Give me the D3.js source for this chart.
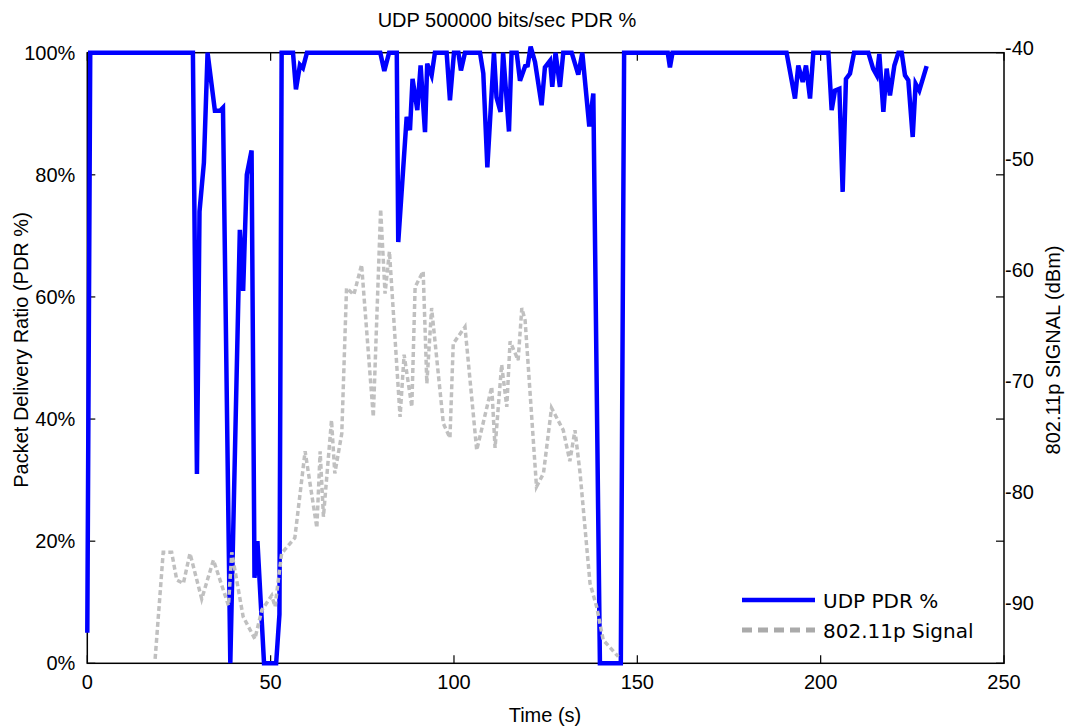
<!DOCTYPE html>
<html>
<head>
<meta charset="utf-8">
<script src="https://cdn.jsdelivr.net/npm/d3@7"></script>
<style>
body{margin:0;background:#fff;}
svg text{font-family:"Liberation Sans",Arial,sans-serif;fill:#000;}
.legend text{font-family:"DejaVu Sans",sans-serif;}
</style>
</head>
<body>
<svg id="chart" width="1066" height="727"></svg>
<script>
// PDR series (time in s, PDR in %)
var pdrTime = [0,0.8,28.8,29.9,30.6,31.8,32.8,34.8,36.2,37.0,39.0,41.6,42.5,43.5,44.8,45.6,46.4,48.2,51.5,52.4,53.0,
  56.1,56.9,58.0,58.8,59.9,79.9,81.0,82.3,84.4,84.8,87.1,88.0,88.7,90.0,90.9,92.1,92.7,93.9,94.8,98.0,98.9,100.0,
  101.2,101.9,103.0,107.1,108.0,109.1,110.9,111.6,112.7,113.4,115.0,115.7,117.1,118.0,119.4,120.1,120.9,122.1,
  123.9,124.8,126.2,126.8,127.7,128.9,129.8,132.1,133.9,135.0,136.9,138.0,139.8,145.5,146.4,158.3,158.9,159.6,
  190.7,193.0,193.9,195.1,196.0,197.1,198.0,202.1,203.0,203.9,205.1,206.0,206.9,208.0,209.1,213.0,214.3,215.3,
  216.0,217.1,218.0,218.9,220.1,221.2,222.1,223.0,223.9,225.1,225.9,226.9,228.9];
var pdrValue = [5,100,100,31,74,82,100,90.5,90.5,91,0,71,61,80,84,14,20,0,0,8,100,
  100,94,98,97.5,100,100,97,100,100,69,89.5,87.3,95.7,90.6,97.9,87,98.2,96.3,100,100,92.2,100,
  100,97.1,100,100,96.6,81.2,100,92.7,90.3,100,87.1,100,100,95.4,97.8,97.9,101,98.5,
  91.4,97.6,98.7,94.4,100,94.4,100,100,96.4,100,87.9,93.3,0,0,100,100,97.6,100,
  100,92.5,97.9,95.2,97.9,92.5,100,100,90.6,93.8,94.1,77.2,95.7,96.6,100,100,97.4,96.3,
  99.8,90.3,97.4,93,97.9,100,100,96.3,95.5,86.2,94.9,93.8,97.8];

// 802.11p signal series (time in s, dBm)
var sigTime = [18.5,20.7,23.0,24.4,26.2,28.0,31.2,34.4,38.5,39.4,42.5,45.7,47.6,50.3,51.2,53.0,56.6,59.4,62.6,63.5,
  64.4,66.6,67.5,69.4,70.7,72.7,74.8,78.0,80.0,81.2,82.4,85.3,86.4,88.5,89.4,91.6,92.6,93.9,97.1,98.9,99.8,103.0,
  106.2,110.3,111.2,113.0,114.4,115.3,117.5,118.5,119.4,122.5,124.4,126.6,129.8,131.6,133.0,134.4,137.1,138.9,
  140.7,144.8];
var sigValue = [-94.6,-85,-85,-87.5,-87.8,-85.1,-89.2,-85.7,-89.8,-85.0,-90.8,-92.8,-90.2,-88.9,-89.9,-85.1,-83.7,-75.9,-82.8,-75.9,
  -81.8,-73.1,-77.9,-74.3,-61.2,-61.8,-59.1,-72.8,-54.1,-61.7,-57.9,-72.8,-67.2,-71.9,-61.1,-59.7,-69.8,-63,-73.4,-74.7,-66.2,-64.7,
  -75.8,-70.1,-75.6,-68.1,-71.9,-66,-67.7,-63,-64.1,-79.1,-77.9,-72,-74,-76.8,-74,-77.9,-87.8,-89.9,
  -92.9,-94.4];

var xTicks = [0,50,100,150,200,250];
var yTicks = [0,20,40,60,80,100];
var y2Ticks = [-40,-50,-60,-70,-80,-90];
var seriesNames = ["UDP PDR %","802.11p Signal"];

var mLeft = 87.3, mRight = 1004, mTop = 52.7, mBottom = 663.3;
var svg = d3.select("#chart");

var x = d3.scaleLinear().domain([0,250]).range([mLeft,mRight]);
var y = d3.scaleLinear().domain([0,100]).range([mBottom,mTop]);
var y2 = d3.scaleLinear().domain([-95,-40]).range([mBottom,mTop]);

// frame
svg.append("rect").attr("x",mLeft).attr("y",mTop).attr("width",mRight-mLeft).attr("height",mBottom-mTop)
  .attr("fill","none").attr("stroke","#000").attr("stroke-width",1.5);

var tl = 8;
// x ticks (bottom and mirrored on top, pointing in)
svg.append("g").selectAll("line").data(xTicks).enter().append("line")
  .attr("x1",d=>x(d)).attr("x2",d=>x(d)).attr("y1",mBottom).attr("y2",mBottom-tl)
  .attr("stroke","#000").attr("stroke-width",1.2);
svg.append("g").selectAll("line").data(xTicks).enter().append("line")
  .attr("x1",d=>x(d)).attr("x2",d=>x(d)).attr("y1",mTop).attr("y2",mTop+tl)
  .attr("stroke","#000").attr("stroke-width",1.2);
svg.append("g").selectAll("text").data(xTicks).enter().append("text")
  .attr("x",d=>x(d)).attr("y",mBottom+26).attr("text-anchor","middle")
  .style("font-size","20px").text(d=>d);

// y ticks left and mirrored on right
svg.append("g").selectAll("line").data(yTicks).enter().append("line")
  .attr("x1",mLeft).attr("x2",mLeft+tl).attr("y1",d=>y(d)).attr("y2",d=>y(d))
  .attr("stroke","#000").attr("stroke-width",1.2);
svg.append("g").selectAll("line").data(yTicks).enter().append("line")
  .attr("x1",mRight).attr("x2",mRight-tl).attr("y1",d=>y(d)).attr("y2",d=>y(d))
  .attr("stroke","#000").attr("stroke-width",1.2);
svg.append("g").selectAll("text").data(yTicks).enter().append("text")
  .attr("x",mLeft-12).attr("y",d=>y(d)+7).attr("text-anchor","end")
  .style("font-size","20px").text(d=>d+"%");

// right axis labels
svg.append("g").selectAll("text").data(y2Ticks).enter().append("text")
  .attr("x",mRight+1).attr("y",d=>y2(d)+2).attr("text-anchor","start")
  .style("font-size","20px").text(d=>d);

// lines
var pdrLine = d3.line().x(d=>x(d[0])).y(d=>y(d[1]));
var sigLine = d3.line().x(d=>x(d[0])).y(d=>y2(d[1]));
var pdrData = d3.zip(pdrTime,pdrValue);
var sigData = d3.zip(sigTime,sigValue);

svg.append("path").datum(pdrData).attr("d",pdrLine)
  .attr("fill","none").attr("stroke","#0000ff").attr("stroke-width",4.5)
  .attr("stroke-linejoin","miter");
svg.append("path").datum(sigData).attr("d",sigLine)
  .attr("fill","none").attr("stroke","#c0c0c0").attr("stroke-width",3.5)
  .attr("stroke-dasharray","5,3");

// titles
svg.append("text").attr("x",507).attr("y",27).attr("text-anchor","middle")
  .style("font-size","20px").text("UDP 500000 bits/sec PDR %");
svg.append("text").attr("x",545).attr("y",722).attr("text-anchor","middle")
  .style("font-size","20px").text("Time (s)");
svg.append("text").attr("transform","translate(28,350) rotate(-90)").attr("text-anchor","middle")
  .style("font-size","20px").text("Packet Delivery Ratio (PDR %)");
svg.append("text").attr("transform","translate(1060,350) rotate(-90)").attr("text-anchor","middle")
  .style("font-size","20px").text("802.11p SIGNAL (dBm)");

// legend
var lg = svg.append("g").attr("class","legend");
var lgStyles = [{c:"#0000ff",w:4.5,dash:null},{c:"#aaaaaa",w:5,dash:"10,6"}];
seriesNames.forEach(function(n,i){
  var ly = 600 + i*30;
  lg.append("line").attr("x1",742).attr("x2",815).attr("y1",ly).attr("y2",ly)
    .attr("stroke",lgStyles[i].c).attr("stroke-width",lgStyles[i].w)
    .attr("stroke-dasharray",lgStyles[i].dash);
  lg.append("text").attr("x",823).attr("y",ly+8).style("font-size","20px").text(n);
});
</script>
</body>
</html>
